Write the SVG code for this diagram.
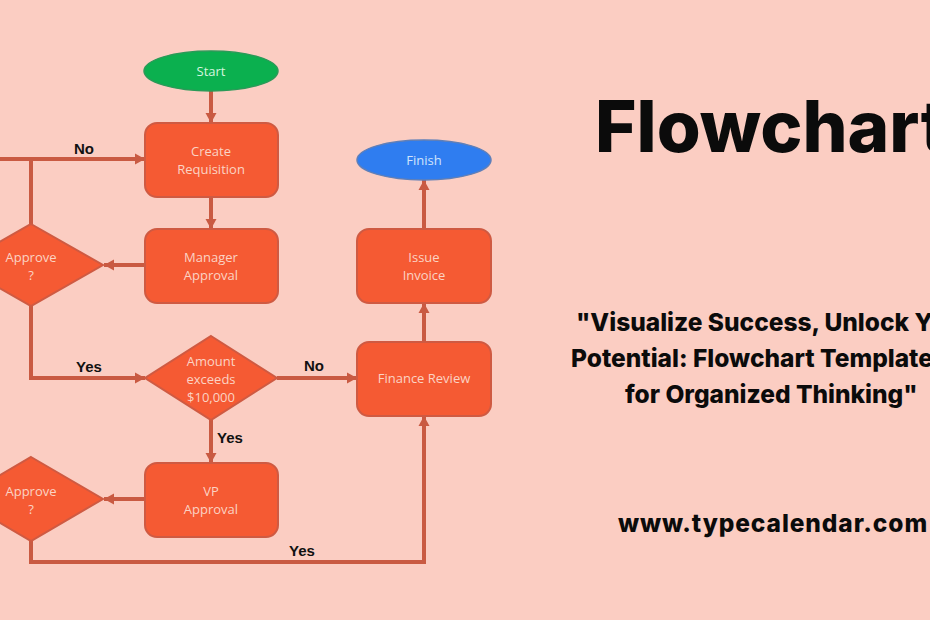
<svg xmlns="http://www.w3.org/2000/svg" width="930" height="620" viewBox="0 0 930 620">
<defs>
<marker id="arrow" markerUnits="userSpaceOnUse" markerWidth="14" markerHeight="14" refX="11" refY="7" orient="auto"><path d="M1 1.500L11 7L1 12.500Z" fill="#c95a42"/></marker>
</defs>
<style>
.shape{fill:#f55a33;stroke:#cf5a42;stroke-width:2}
.label{font-family:"Open Sans","Liberation Sans",sans-serif;font-size:13px;fill:#fbd3c4;text-anchor:middle}
.edge{font-family:"Liberation Sans",sans-serif;font-size:15px;font-weight:700;fill:#111;text-anchor:middle}
.line{fill:none;stroke:#c95a42;stroke-width:4}
.arrow{marker-end:url(#arrow)}
.head{font-family:Inter,"Liberation Sans",sans-serif;font-weight:800;fill:#0b0b0b}
</style>
<rect width="930" height="620" fill="#fbcdc2"/>
<g id="connectors">
<path class="line arrow" d="M211 91V123"/>
<path class="line arrow" d="M211 197V229"/>
<path class="line arrow" d="M145 265H104"/>
<path class="line" d="M31 224V159"/>
<path class="line arrow" d="M0 159H145"/>
<path class="line arrow" d="M31 306V378H145"/>
<path class="line arrow" d="M277 378H357"/>
<path class="line arrow" d="M211 420V463"/>
<path class="line arrow" d="M145 499H104"/>
<path class="line arrow" d="M31 541V562H424V416"/>
<path class="line arrow" d="M424 342V303"/>
<path class="line arrow" d="M424 229V180"/>
<text class="edge" x="84" y="154">No</text>
<text class="edge" x="89" y="372">Yes</text>
<text class="edge" x="230" y="443">Yes</text>
<text class="edge" x="314" y="371">No</text>
<text class="edge" x="302" y="556">Yes</text>
</g>
<g id="start"><ellipse cx="211" cy="71" rx="67" ry="20" fill="#0bb04f" stroke="#2a9a58" stroke-width="1.500"/><text class="label" x="211" y="76" style="fill:#d5f5df">Start</text></g>
<g id="create"><rect class="shape" x="145" y="123" width="133" height="74" rx="12"/><text class="label" x="211" y="156">Create</text><text class="label" x="211" y="174">Requisition</text></g>
<g id="manager"><rect class="shape" x="145" y="229" width="133" height="74" rx="12"/><text class="label" x="211" y="262">Manager</text><text class="label" x="211" y="280">Approval</text></g>
<g id="approve1"><path class="shape" d="M31 224L103 265L31 306L-41 265Z"/><text class="label" x="31" y="262">Approve</text><text class="label" x="31" y="280">?</text></g>
<g id="amount"><path class="shape" d="M211 336L277 378L211 420L145 378Z"/><text class="label" x="211" y="366">Amount</text><text class="label" x="211" y="384">exceeds</text><text class="label" x="211" y="402">$10,000</text></g>
<g id="vp"><rect class="shape" x="145" y="463" width="133" height="74" rx="12"/><text class="label" x="211" y="496">VP</text><text class="label" x="211" y="514">Approval</text></g>
<g id="approve2"><path class="shape" d="M31 457L103 499L31 541L-41 499Z"/><text class="label" x="31" y="496">Approve</text><text class="label" x="31" y="514">?</text></g>
<g id="finish"><ellipse cx="424" cy="160" rx="67" ry="20" fill="#2f7df0" stroke="#5f7fb8" stroke-width="1.500"/><text class="label" x="424" y="165" style="fill:#cfe3fb">Finish</text></g>
<g id="issue"><rect class="shape" x="357" y="229" width="134" height="74" rx="12"/><text class="label" x="424" y="262">Issue</text><text class="label" x="424" y="280">Invoice</text></g>
<g id="finance"><rect class="shape" x="357" y="342" width="134" height="74" rx="12"/><text class="label" x="424" y="383">Finance Review</text></g>
<text class="head" x="595" y="152" font-size="71">Flowchart</text>
<text class="head" x="576" y="331" font-size="24.500">"Visualize Success, Unlock Your</text>
<text class="head" x="571" y="367" font-size="24.500">Potential: Flowchart Templates</text>
<text class="head" x="625" y="403" font-size="24.500">for Organized Thinking"</text>
<text class="head" x="618" y="532" font-size="24.500" letter-spacing="0.900">www.typecalendar.com</text>
</svg>
